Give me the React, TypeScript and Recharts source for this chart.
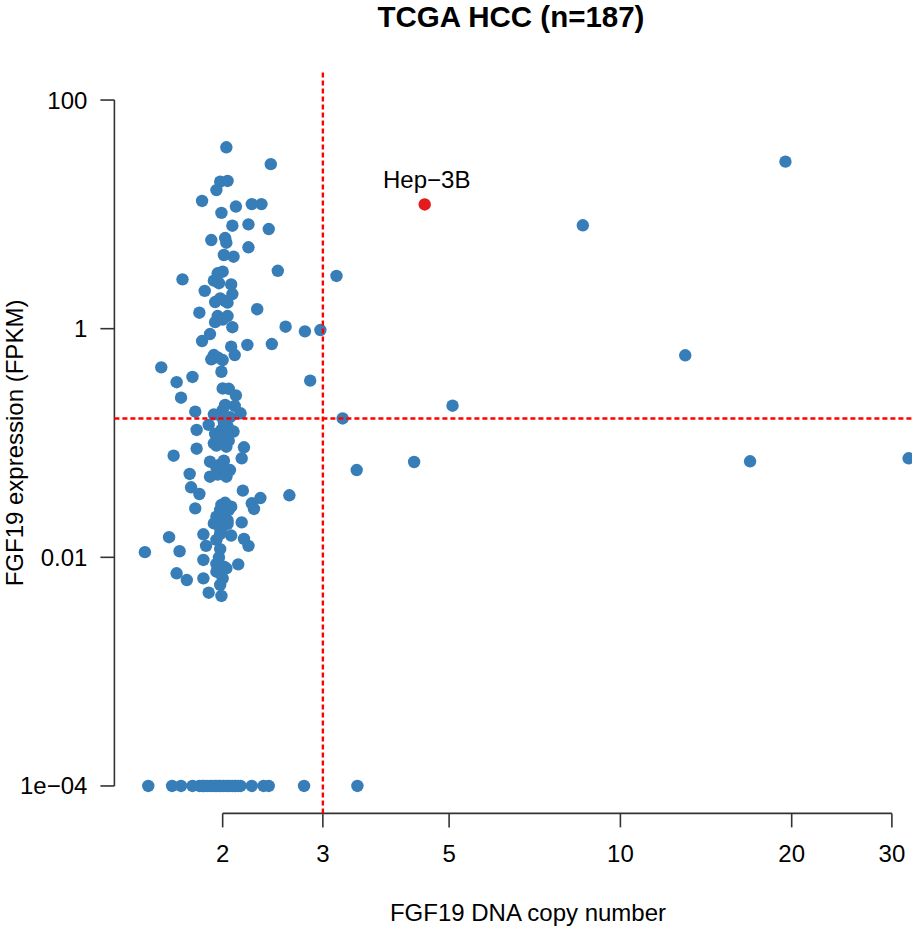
import React from 'react';
import { ScatterChart, Scatter, XAxis, YAxis, ReferenceLine } from 'recharts';

// ---- data (FGF19 DNA copy number vs FGF19 expression, FPKM) ----
const upperCopy = [2.03, 2.43, 1.98, 2.04, 1.95, 1.84, 2.25, 2.34, 2.11, 1.99, 2.08, 2.22, 2.41, 1.91, 2.02, 2.03, 2.22, 2.01, 2.09, 2.50, 1.70, 1.96, 2.00, 1.93, 2.07, 1.86, 2.08, 1.98, 1.94, 2.04, 2.30, 1.82, 1.96, 2.04, 1.94, 2.08, 1.90, 2.58, 2.79, 2.97];
const upperExpr = [38.6, 27.5, 19.3, 19.6, 16.3, 13.1, 12.3, 12.3, 11.7, 10.3, 7.96, 8.18, 7.44, 5.96, 6.21, 5.65, 5.15, 4.41, 4.26, 3.21, 2.70, 3.05, 3.15, 2.63, 2.44, 2.14, 2.01, 1.84, 1.71, 1.69, 1.48, 1.38, 1.29, 1.29, 1.14, 1.03, 0.898, 1.04, 0.948, 0.973];

const outlierCopy = [3.17, 2.85, 5.07, 3.25, 19.5, 8.59, 13.0, 16.9, 32.1, 3.44, 4.34];
const outlierExpr = [2.89, 0.351, 0.212, 0.164, 28.9, 8.02, 0.585, 0.0692, 0.0735, 0.058, 0.0682];

const midCopy = [1.84, 2.07, 2.21, 2.44, 1.93, 1.91, 2.00, 2.10, 1.56, 1.99, 1.66, 1.77, 1.69, 2.05, 2.11, 1.79, 2.10, 1.93, 2.00, 2.15, 2.06, 1.89, 1.80, 1.99, 2.09, 2.02, 1.93, 2.03, 1.80, 2.18, 1.64, 2.16, 1.90, 1.95, 1.99, 1.75, 1.90, 2.03];
const midExpr = [0.780, 0.696, 0.720, 0.734, 0.588, 0.540, 0.532, 0.588, 0.459, 0.420, 0.340, 0.378, 0.249, 0.298, 0.261, 0.188, 0.211, 0.178, 0.194, 0.182, 0.168, 0.144, 0.130, 0.130, 0.126, 0.114, 0.0994, 0.0928, 0.0891, 0.0917, 0.0774, 0.0735, 0.0686, 0.0613, 0.0561, 0.0536, 0.0507, 0.0507];

const lowCopy = [1.76, 1.82, 2.17, 2.33, 2.25, 2.27, 2.62, 1.79, 1.99, 2.07, 1.95, 2.01, 1.93, 2.04, 2.16, 1.98, 1.85, 1.61, 2.07, 2.18, 1.95, 1.87, 1.98, 2.22, 1.46, 1.68, 1.85, 1.95, 2.01, 2.13, 1.66, 1.73, 1.85, 1.95, 2.00, 1.98, 1.89, 1.99];
const lowExpr = [0.0410, 0.0358, 0.0383, 0.0330, 0.0297, 0.0265, 0.0349, 0.0268, 0.0287, 0.0277, 0.0227, 0.0243, 0.0198, 0.0196, 0.0202, 0.0179, 0.0159, 0.0150, 0.0155, 0.0145, 0.0142, 0.0126, 0.0118, 0.0126, 0.0111, 0.0113, 0.00948, 0.00874, 0.00828, 0.00868, 0.00725, 0.00633, 0.00655, 0.00748, 0.00655, 0.00573, 0.00490, 0.00459];

// samples with no detectable expression, plotted at the floor value
const zeroCopy = [1.48, 1.63, 1.69, 1.77, 1.82, 1.85, 1.88, 1.92, 1.95, 1.98, 2.01, 2.04, 2.08, 2.11, 2.15, 2.25, 2.36, 2.41, 2.78, 3.45, 1.84, 1.90, 1.97, 2.00, 2.03, 2.06, 2.10, 2.13, 1.86, 1.94];
const zeroFloor = 0.0001;

// samples hidden inside the dense cluster
const coreCopy = [2.01, 1.97, 2.05, 1.98, 2.02, 2.00, 1.96, 2.04, 1.99, 2.02, 1.97, 2.03, 1.97, 2.00, 2.02, 1.97, 2.02, 2.05, 1.94, 2.06, 2.03, 1.95, 2.00, 1.98, 2.04, 1.96, 2.01, 2.00, 1.98];
const coreExpr = [0.150, 0.115, 0.105, 0.0650, 0.0220, 0.0185, 0.0530, 0.140, 0.170, 0.0300, 0.0200, 0.0080, 0.0100, 1.20, 1.75, 2.50, 0.215, 0.0260, 0.120, 0.0580, 0.0520, 0.0950, 0.110, 0.0260, 0.0210, 0.560, 0.0700, 0.300, 0.0160];

const hepCopy = [4.53];
const hepExpr = [12.2];
const hepName = 'Hep\u22123B';

const copyThreshold = 3;
const exprThreshold = 0.164;

const xTicks = [2, 3, 5, 10, 20, 30];
const xTickLabels = ['2', '3', '5', '10', '20', '30'];
const yTicks = [0.0001, 0.01, 1, 100];
const yTickLabels = ['1e\u221204', '0.01', '1', '100'];

const xDomain = [1.2905, 36.33];
const yDomain = [5.754e-5, 173.78];

const zip = (xs: number[], ys: number[]) => xs.map((x, i) => ({ cn: x, fpkm: ys[i] }));
const bluePoints = [
  ...zip(upperCopy, upperExpr),
  ...zip(outlierCopy, outlierExpr),
  ...zip(midCopy, midExpr),
  ...zip(lowCopy, lowExpr),
  ...zeroCopy.map((x) => ({ cn: x, fpkm: zeroFloor })),
  ...zip(coreCopy, coreExpr),
];
const hepPoints = zip(hepCopy, hepExpr);

const FONT = '"Liberation Sans", Arial, Helvetica, sans-serif';
const BLUE = '#377EB8';
const RED_PT = '#E41A1C';
const AXIS = '#333333';

const XTick = (props: any) => {
  const i = xTicks.indexOf(props.payload.value);
  return (
    <text x={props.x} y={props.y + 35} textAnchor="middle" fontFamily={FONT} fontSize={24} fill="#000">
      {i >= 0 ? xTickLabels[i] : props.payload.value}
    </text>
  );
};

const YTick = (props: any) => {
  const i = yTicks.indexOf(props.payload.value);
  return (
    <text x={props.x - 13} y={props.y + 8.5} textAnchor="end" fontFamily={FONT} fontSize={24} fill="#000">
      {i >= 0 ? yTickLabels[i] : props.payload.value}
    </text>
  );
};

const BlueDot = (p: any) => <circle cx={p.cx} cy={p.cy} r={6.2} fill={BLUE} />;
const HepDot = (p: any) => (
  <g>
    <circle cx={p.cx} cy={p.cy} r={6.2} fill={RED_PT} />
    <text x={p.cx + 2} y={p.cy - 16} textAnchor="middle" fontFamily={FONT} fontSize={24} fill="#000">
      {hepName}
    </text>
  </g>
);

export default function App() {
  return (
    <div style={{ position: 'absolute', left: 0, top: 0, width: 912, height: 932, overflow: 'hidden', background: '#fff' }}>
      <ScatterChart width={960} height={932} margin={{ top: 72.6, right: 20.8, bottom: 0, left: 0 }}>
        <XAxis
          type="number"
          dataKey="cn"
          scale="log"
          domain={xDomain}
          allowDataOverflow
          ticks={xTicks}
          interval={0}
          height={118.6}
          tickSize={14}
          tickMargin={0}
          axisLine={false}
          tickLine={{ stroke: AXIS, strokeWidth: 1.6 }}
          tick={<XTick />}
        />
        <YAxis
          type="number"
          dataKey="fpkm"
          scale="log"
          domain={yDomain}
          allowDataOverflow
          ticks={yTicks}
          interval={0}
          width={114.4}
          tickSize={14}
          tickMargin={0}
          axisLine={false}
          tickLine={{ stroke: AXIS, strokeWidth: 1.6 }}
          tick={<YTick />}
        />
        <Scatter data={bluePoints} fill={BLUE} shape={BlueDot} isAnimationActive={false} />
        <Scatter data={hepPoints} fill={RED_PT} shape={HepDot} isAnimationActive={false} />
        <ReferenceLine
          segment={[{ x: xTicks[0], y: yDomain[0] }, { x: xTicks[xTicks.length - 1], y: yDomain[0] }]}
          stroke={AXIS}
          strokeWidth={1.6}
          ifOverflow="visible"
        />
        <ReferenceLine
          segment={[{ x: xDomain[0], y: yTicks[0] }, { x: xDomain[0], y: yTicks[yTicks.length - 1] }]}
          stroke={AXIS}
          strokeWidth={1.6}
          ifOverflow="visible"
        />
        <ReferenceLine x={copyThreshold} stroke="#FF0000" strokeWidth={2.4} strokeDasharray="5 3" ifOverflow="visible" zIndex={900} />
        <ReferenceLine y={exprThreshold} stroke="#FF0000" strokeWidth={2.4} strokeDasharray="5 3" ifOverflow="visible" zIndex={900} />
      </ScatterChart>
      <svg width={912} height={932} style={{ position: 'absolute', left: 0, top: 0, pointerEvents: 'none' }}>
        <text x={511} y={27} textAnchor="middle" fontFamily={FONT} fontSize={29.5} fontWeight="bold" fill="#000">
          TCGA HCC (n=187)
        </text>
        <text x={528} y={921} textAnchor="middle" fontFamily={FONT} fontSize={24} fill="#000">
          FGF19 DNA copy number
        </text>
        <text transform="translate(23,443) rotate(-90)" textAnchor="middle" fontFamily={FONT} fontSize={24} fill="#000">
          FGF19 expression (FPKM)
        </text>
      </svg>
    </div>
  );
}
